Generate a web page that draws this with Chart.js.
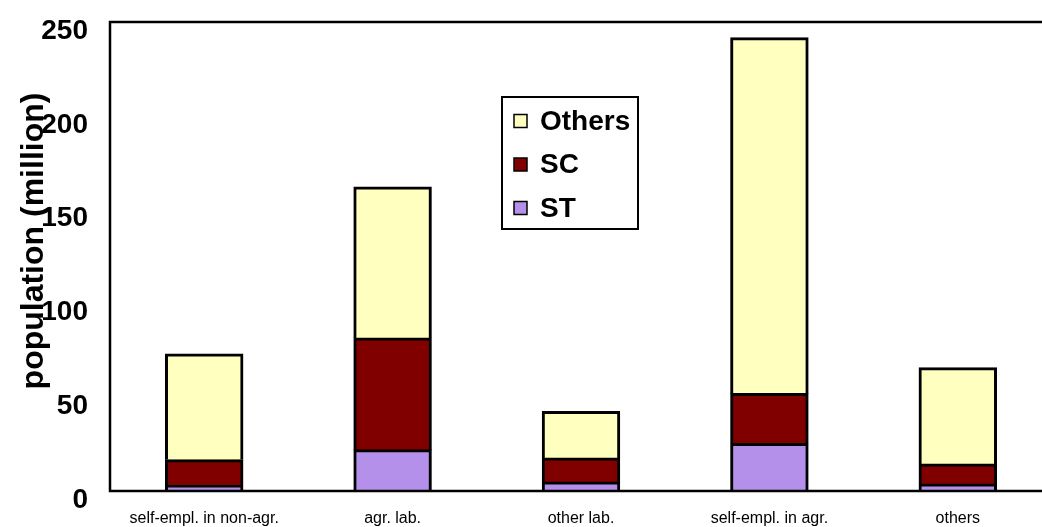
<!DOCTYPE html>
<html>
<head>
<meta charset="utf-8">
<script src="https://cdn.jsdelivr.net/npm/chart.js@4.4.1/dist/chart.umd.min.js"></script>
<style>
    html, body { margin: 0; padding: 0; background: #fff; overflow: hidden; }
    #wrap { width: 1070px; height: 527px; }
</style>
</head>
<body>
<div id="wrap"><canvas id="chart"></canvas></div>
<script>
// Data (million)
const categories = ['self-empl. in non-agr.', 'agr. lab.', 'other lab.', 'self-empl. in agr.', 'others'];
const stValues = [3, 21.9, 4.8, 25.3, 3.7];
const scValues = [13.6, 59.6, 12.8, 26.6, 10.7];
const othersValues = [56.4, 80.5, 24.7, 189.7, 51.2];
const yTicks = [0, 50, 100, 150, 200, 250];
const yTitle = 'population (million)';

const FONT = '"Liberation Sans", Arial, sans-serif';

// plot frame: top, left and bottom lines (right side is cut off in the reference)
const frame = {
    id: 'frame',
    afterDatasetsDraw(chart) {
        const { ctx, chartArea: a } = chart;
        ctx.save();
        ctx.strokeStyle = '#000';
        ctx.lineWidth = 2.5;
        ctx.beginPath();
        ctx.moveTo(a.right + 20, a.top);
        ctx.lineTo(a.left, a.top);
        ctx.lineTo(a.left, a.bottom);
        ctx.lineTo(a.right + 20, a.bottom);
        ctx.stroke();
        ctx.restore();
    }
};

// y title drawn over the tick labels like the original
const yTitlePlugin = {
    id: 'yTitle',
    afterDraw(chart) {
        const { ctx } = chart;
        ctx.save();
        ctx.translate(34, 241);
        ctx.rotate(-Math.PI / 2);
        ctx.font = 'bold 32px ' + FONT;
        ctx.fillStyle = '#000';
        ctx.textAlign = 'center';
        ctx.textBaseline = 'middle';
        ctx.fillText(yTitle, 0, 0);
        ctx.restore();
    }
};

// boxed legend inside the plot
const boxLegend = {
    id: 'boxLegend',
    afterDraw(chart) {
        const { ctx } = chart;
        const sets = chart.data.datasets.slice().reverse();
        ctx.save();
        ctx.fillStyle = '#fff';
        ctx.fillRect(502, 97, 136, 132);
        ctx.strokeStyle = '#000';
        ctx.lineWidth = 2;
        ctx.strokeRect(502, 97, 136, 132);
        ctx.font = 'bold 28px ' + FONT;
        ctx.textBaseline = 'middle';
        sets.forEach((ds, i) => {
            const y = 121 + i * 43.5;
            ctx.fillStyle = ds.backgroundColor;
            ctx.fillRect(514, y - 6.5, 13, 13);
            ctx.lineWidth = 1.5;
            ctx.strokeRect(514, y - 6.5, 13, 13);
            ctx.fillStyle = '#000';
            ctx.fillText(ds.label, 540, y + 1);
        });
        ctx.restore();
    }
};

const seg = (label, data, color) => ({
    label, data,
    backgroundColor: color,
    borderColor: '#000',
    borderWidth: 3,
    borderSkipped: 'bottom',
    inflateAmount: 0.6,
    barPercentage: 0.41,
    categoryPercentage: 1
});

new Chart(document.getElementById('chart'), {
    type: 'bar',
    data: {
        labels: categories,
        datasets: [
            seg('ST', stValues, '#b490ea'),
            seg('SC', scValues, '#800000'),
            seg('Others', othersValues, '#ffffc0')
        ]
    },
    options: {
        responsive: true,
        maintainAspectRatio: false,
        animation: false,
        layout: { padding: { left: 0, right: 18, top: 22, bottom: 0 } },
        plugins: { legend: { display: false }, tooltip: { enabled: false } },
        scales: {
            x: {
                stacked: true,
                grid: { display: false, drawTicks: false },
                border: { display: false },
                ticks: { color: '#000', font: { family: FONT, size: 16 }, padding: 18, maxRotation: 0 },
                afterFit: (s) => { s.height = 36; s.paddingLeft = 0; s.paddingRight = 0; }
            },
            y: {
                stacked: true,
                min: yTicks[0],
                max: yTicks[yTicks.length - 1],
                afterBuildTicks: (s) => { s.ticks = yTicks.map(v => ({ value: v })); },
                grid: { display: false, drawTicks: false },
                border: { display: false },
                ticks: { color: '#000', font: { family: FONT, size: 28, weight: 'bold' }, padding: 22, labelOffset: 9 },
                afterFit: (s) => { s.width = 110; s.paddingTop = 0; s.paddingBottom = 0; }
            }
        }
    },
    plugins: [frame, yTitlePlugin, boxLegend]
});
</script>
</body>
</html>
